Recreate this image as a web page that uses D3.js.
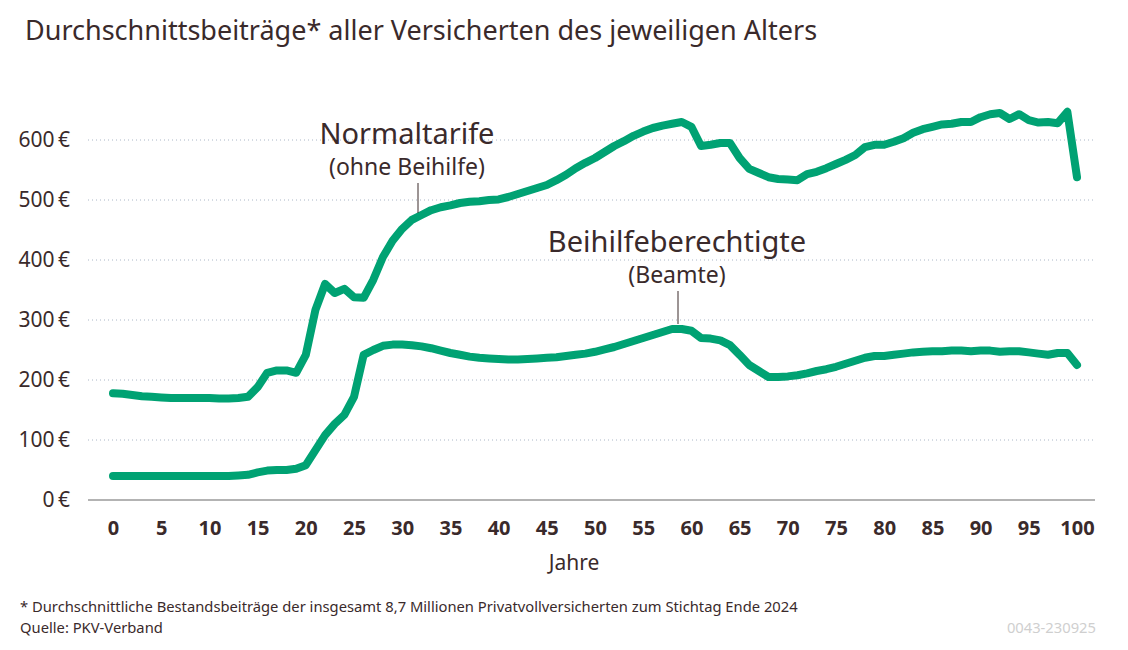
<!DOCTYPE html>
<html>
<head>
<meta charset="utf-8">
<script src="https://cdn.jsdelivr.net/npm/d3@7"></script>
<style>
  body { margin: 0; background: #fff; }
  svg { font-family: "Noto Sans", "Open Sans", sans-serif; }
</style>
</head>
<body>
<svg id="chart"></svg>
<script>
// Alter 0..100
const ages = d3.range(0, 101);

// Normaltarife (ohne Beihilfe), Euro pro Monat
const normalValues = [
  178, 177, 175, 173, 172, 171, 170, 170, 170, 170,
  170, 169, 169, 170, 172, 188, 212, 216, 216, 212,
  242, 317, 360, 345, 352, 338, 337, 367, 405, 432,
  452, 467, 475, 483, 488, 491, 495, 497, 498, 500,
  501, 505, 510, 515, 520, 525, 533, 542, 553, 562,
  570, 580, 590, 598, 607, 614, 620, 624, 627, 630,
  622, 590, 592, 595, 595, 570, 552, 545, 538, 535,
  534, 533, 543, 547, 553, 560, 567, 575, 588, 592,
  592, 597, 603, 612, 618, 622, 626, 627, 630, 630,
  638, 643, 645, 635, 643, 633, 629, 630, 628, 647,
  538
];

// Beihilfeberechtigte (Beamte)
const beihilfeValues = [
  40, 40, 40, 40, 40, 40, 40, 40, 40, 40,
  40, 40, 40, 41, 42, 46, 49, 50, 50, 52,
  58, 83, 108, 127, 142, 172, 242, 250, 257, 259,
  259, 258, 256, 253, 249, 245, 242, 239, 237, 236,
  235, 234, 234, 235, 236, 237, 238, 240, 242, 244,
  247, 251, 255, 260, 265, 270, 275, 280, 285, 285,
  282, 270, 269, 266, 258, 242, 225, 215, 205, 205,
  206, 208, 211, 215, 218, 222, 227, 232, 237, 240,
  240, 242, 244, 246, 247, 248, 248, 249, 249, 248,
  249, 249, 247, 248, 248, 246, 244, 242, 245, 245,
  225
];

const yTicks = [0, 100, 200, 300, 400, 500, 600];
const xTicks = d3.range(0, 101, 5);

const width = 1128;
const height = 650;
const textColor = "#3a2a2b";
const green = "#00a273";

const svg = d3.select("#chart").attr("width", width).attr("height", height);

const x = d3.scaleLinear().domain([0, 100]).range([113, 1077]);
const y = d3.scaleLinear().domain([0, 600]).range([500, 140]);

// Titel
svg.append("text")
    .attr("x", 25).attr("y", 40)
    .attr("font-size", 27)
    .attr("fill", textColor)
    .text("Durchschnittsbeiträge* aller Versicherten des jeweiligen Alters");

// Gitterlinien (gepunktet)
svg.append("g")
    .selectAll("line")
    .data(yTicks.filter(d => d > 0))
    .enter()
    .append("line")
    .attr("x1", 88).attr("x2", 1095)
    .attr("y1", d => y(d)).attr("y2", d => y(d))
    .attr("stroke", "#aab6c6")
    .attr("stroke-width", 1)
    .attr("stroke-dasharray", "1,3");

// Nulllinie
svg.append("line")
    .attr("x1", 88).attr("x2", 1095)
    .attr("y1", y(0)).attr("y2", y(0))
    .attr("stroke", "#9a9a9a")
    .attr("stroke-width", 1.5);

// y-Achse
const yAxis = d3.axisLeft(y)
    .tickValues(yTicks)
    .tickSize(0)
    .tickPadding(0)
    .tickFormat(d => d + "\u2009€");

const gy = svg.append("g").attr("transform", "translate(70,0)").call(yAxis)
    .attr("font-family", null)
    .attr("font-size", null);
gy.select(".domain").remove();
gy.selectAll("text")
    .attr("font-size", 21)
    .attr("fill", textColor);

// x-Achse
const xAxis = d3.axisBottom(x)
    .tickValues(xTicks)
    .tickSize(0)
    .tickPadding(0);

const gx = svg.append("g").attr("transform", "translate(0,521)").call(xAxis)
    .attr("font-family", null)
    .attr("font-size", null);
gx.select(".domain").remove();
gx.selectAll("text")
    .attr("font-size", 20)
    .attr("font-weight", "bold")
    .attr("fill", textColor);

svg.append("text")
    .attr("x", 574).attr("y", 570)
    .attr("text-anchor", "middle")
    .attr("font-size", 21)
    .attr("fill", textColor)
    .text("Jahre");

// Linien
const line = d3.line()
    .x((d, i) => x(ages[i]))
    .y(d => y(d));

[normalValues, beihilfeValues].forEach(values => {
    svg.append("path")
        .datum(values)
        .attr("d", line)
        .attr("fill", "none")
        .attr("stroke", green)
        .attr("stroke-width", 8)
        .attr("stroke-linejoin", "round")
        .attr("stroke-linecap", "round");
});

// Beschriftungen der Linien
function label(cx, top, main, sub, lineX, lineTop, lineBottom) {
    svg.append("text")
        .attr("x", cx).attr("y", top)
        .attr("text-anchor", "middle")
        .attr("font-size", 29)
        .attr("fill", textColor)
        .text(main);
    svg.append("text")
        .attr("x", cx).attr("y", top + 31)
        .attr("text-anchor", "middle")
        .attr("font-size", 23)
        .attr("fill", textColor)
        .text(sub);
    svg.append("line")
        .attr("x1", lineX).attr("x2", lineX)
        .attr("y1", lineTop).attr("y2", lineBottom)
        .attr("stroke", textColor)
        .attr("stroke-width", 1);
}

label(407, 144, "Normaltarife", "(ohne Beihilfe)", 418, 183, 213);
label(677, 252, "Beihilfeberechtigte", "(Beamte)", 678, 291, 324);

// Fußnote
svg.append("text")
    .attr("x", 20).attr("y", 612)
    .attr("font-size", 14.75)
    .attr("fill", textColor)
    .text("* Durchschnittliche Bestandsbeiträge der insgesamt 8,7 Millionen Privatvollversicherten zum Stichtag Ende 2024");

svg.append("text")
    .attr("x", 20).attr("y", 633)
    .attr("font-size", 14.75)
    .attr("fill", textColor)
    .text("Quelle: PKV-Verband");

svg.append("text")
    .attr("x", 1096).attr("y", 633)
    .attr("text-anchor", "end")
    .attr("font-size", 14.75)
    .attr("fill", "#cfcfcf")
    .text("0043-230925");
</script>
</body>
</html>
